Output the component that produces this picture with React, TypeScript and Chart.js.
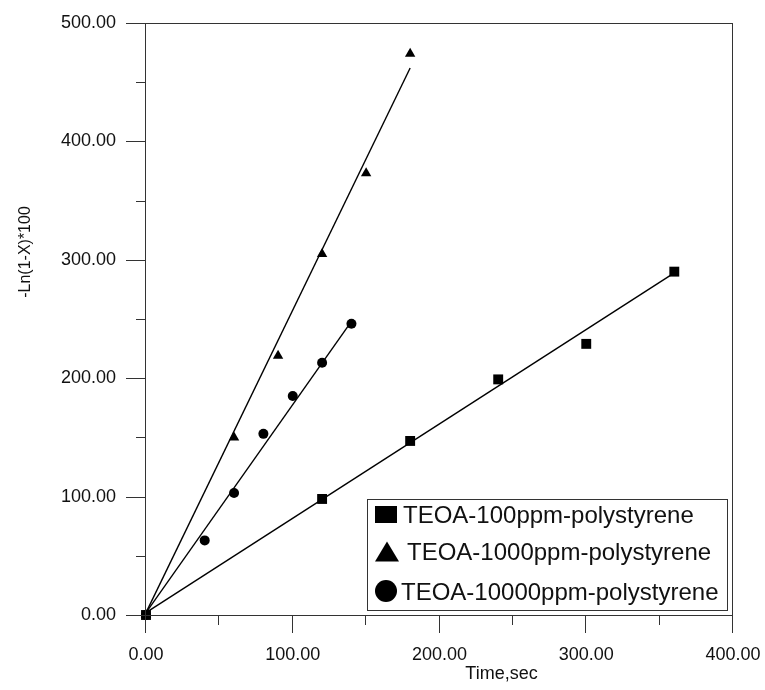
import React, { useEffect, useRef } from "react";
import { Chart, registerables } from "chart.js";

Chart.register(...registerables);

// ---- data ----
const seriesNames = [
  "TEOA-100ppm-polystyrene",
  "TEOA-1000ppm-polystyrene",
  "TEOA-10000ppm-polystyrene",
];

const time100 = [0, 120, 180, 240, 300, 360];
const value100 = [0, 98, 147, 199, 229, 290];

const time1000 = [0, 60, 90, 120, 150, 180];
const value1000 = [0, 150, 219, 305, 373, 474];

const time10000 = [0, 40, 60, 80, 100, 120, 140];
const value10000 = [0, 63, 103, 153, 185, 213, 246];

// fitted straight lines (end points)
const fit100X = [0, 360];
const fit100Y = [2, 289];
const fit1000X = [0, 180];
const fit1000Y = [2, 462];
const fit10000X = [0, 140];
const fit10000Y = [2, 248];

const xMajorTicks = [0, 100, 200, 300, 400];
const xMinorTicks = [50, 150, 250, 350];
const yMajorTicks = [0, 100, 200, 300, 400, 500];
const yMinorTicks = [50, 150, 250, 350, 450];

const xTitle = "Time,sec";
const yTitle = "-Ln(1-X)*100";

const FONT = '"Liberation Sans", Arial, Helvetica, sans-serif';
const INK = "#111";

function pts(xs: number[], ys: number[]) {
  return xs.map((x, i) => ({ x, y: ys[i] }));
}

function zeroPad(s: any) {
  s.paddingLeft = 0;
  s.paddingRight = 0;
  s.paddingTop = 0;
  s.paddingBottom = 0;
}

const decorPlugin = {
  id: "decor",
  afterDraw(chart: any) {
    const { ctx, chartArea: a, scales } = chart;
    const xs = scales.x;
    const ys = scales.y;
    ctx.save();
    // frame
    ctx.strokeStyle = "#333";
    ctx.lineWidth = 1;
    ctx.strokeRect(Math.round(a.left) - 0.5, Math.round(a.top) + 0.5, Math.round(a.right - a.left), Math.round(a.bottom - a.top));
    // ticks
    ctx.beginPath();
    xMajorTicks.forEach((v) => {
      const px = Math.round(xs.getPixelForValue(v)) - 0.5;
      ctx.moveTo(px, a.bottom);
      ctx.lineTo(px, a.bottom + 18);
    });
    xMinorTicks.forEach((v) => {
      const px = Math.round(xs.getPixelForValue(v)) - 0.5;
      ctx.moveTo(px, a.bottom);
      ctx.lineTo(px, a.bottom + 10);
    });
    yMajorTicks.forEach((v) => {
      const py = Math.round(ys.getPixelForValue(v)) + 0.5;
      ctx.moveTo(a.left - 20, py);
      ctx.lineTo(a.left, py);
    });
    yMinorTicks.forEach((v) => {
      const py = Math.round(ys.getPixelForValue(v)) + 0.5;
      ctx.moveTo(a.left - 10, py);
      ctx.lineTo(a.left, py);
    });
    ctx.stroke();

    // axis titles
    ctx.fillStyle = INK;
    ctx.font = `18px ${FONT}`;
    ctx.textAlign = "center";
    ctx.textBaseline = "middle";
    ctx.fillText(xTitle, (a.left + a.right) / 2 + 62, a.bottom + 59);

    ctx.save();
    ctx.font = `16px ${FONT}`;
    ctx.translate(26, a.top + 229);
    ctx.rotate(-Math.PI / 2);
    ctx.fillText(yTitle, 0, 0);
    ctx.restore();

    // legend box
    const bx0 = a.right - 366;
    const bx1 = a.right - 6;
    const by0 = a.bottom - 116;
    const by1 = a.bottom - 5;
    ctx.strokeStyle = "#333";
    ctx.lineWidth = 1;
    ctx.strokeRect(bx0 + 0.5, by0 + 0.5, bx1 - bx0, by1 - by0);

    const rowCenters = [by0 + 15.5, by0 + 52.5, by0 + 92];
    const textX = [bx0 + 36, bx0 + 40, bx0 + 34];
    const mx = bx0 + 19;
    ctx.fillStyle = "#000";
    // square
    ctx.fillRect(mx - 11, rowCenters[0] - 8.5, 22, 17);
    // triangle
    ctx.beginPath();
    ctx.moveTo(mx + 1, rowCenters[1] - 10);
    ctx.lineTo(mx + 13, rowCenters[1] + 10);
    ctx.lineTo(mx - 11, rowCenters[1] + 10);
    ctx.closePath();
    ctx.fill();
    // circle
    ctx.beginPath();
    ctx.arc(mx, rowCenters[2], 11, 0, Math.PI * 2);
    ctx.fill();

    ctx.fillStyle = INK;
    ctx.font = `24px ${FONT}`;
    ctx.textAlign = "left";
    ctx.textBaseline = "alphabetic";
    seriesNames.forEach((name, i) => {
      ctx.fillText(name, textX[i], rowCenters[i] + 8.5);
    });
    ctx.restore();
  },
};

export default function App() {
  const ref = useRef<HTMLCanvasElement | null>(null);

  useEffect(() => {
    document.body.style.margin = "0";
    const canvas = ref.current;
    if (!canvas) return;
    const chart = new Chart(canvas, {
      type: "scatter",
      data: {
        datasets: [
          {
            label: seriesNames[0],
            data: pts(time100, value100),
            pointStyle: "rect",
            pointRadius: 7,
            backgroundColor: "#000",
            borderColor: "#000",
            borderWidth: 0,
            showLine: false,
            clip: false,
            order: 1,
          },
          {
            label: seriesNames[1],
            data: pts(time1000, value1000),
            pointStyle: "triangle",
            pointRadius: 6,
            backgroundColor: "#000",
            borderColor: "#000",
            borderWidth: 0,
            showLine: false,
            clip: false,
            order: 2,
          },
          {
            label: seriesNames[2],
            data: pts(time10000, value10000),
            pointStyle: "circle",
            pointRadius: 5,
            backgroundColor: "#000",
            borderColor: "#000",
            borderWidth: 0,
            showLine: false,
            clip: false,
            order: 3,
          },
          {
            label: "fit100",
            data: pts(fit100X, fit100Y),
            showLine: true,
            pointRadius: 0,
            borderColor: "#000",
            borderWidth: 1.4,
            order: 4,
          },
          {
            label: "fit1000",
            data: pts(fit1000X, fit1000Y),
            showLine: true,
            pointRadius: 0,
            borderColor: "#000",
            borderWidth: 1.4,
            order: 5,
          },
          {
            label: "fit10000",
            data: pts(fit10000X, fit10000Y),
            showLine: true,
            pointRadius: 0,
            borderColor: "#000",
            borderWidth: 1.4,
            order: 6,
          },
        ],
      },
      options: {
        animation: false,
        responsive: false,
        devicePixelRatio: 1,
        layout: { padding: { top: 23, right: 32, left: 0, bottom: 0 } },
        plugins: {
          legend: { display: false },
          tooltip: { enabled: false },
        },
        scales: {
          x: {
            type: "linear",
            position: "bottom",
            min: 0,
            max: 400,
            grid: { display: false, drawTicks: false },
            border: { display: false },
            afterFit: (s: any) => {
              s.height = 75;
              zeroPad(s);
            },
            ticks: {
              stepSize: 100,
              autoSkip: false,
              maxRotation: 0,
              padding: 29,
              color: INK,
              font: { family: FONT, size: 18 },
              callback: (v: any) => Number(v).toFixed(2),
            },
          },
          y: {
            type: "linear",
            min: 0,
            max: 500,
            grid: { display: false, drawTicks: false },
            border: { display: false },
            afterFit: (s: any) => {
              s.width = 146;
              zeroPad(s);
            },
            ticks: {
              stepSize: 100,
              autoSkip: false,
              padding: 30,
              color: INK,
              font: { family: FONT, size: 18 },
              callback: (v: any) => Number(v).toFixed(2),
            },
          },
        },
      },
      plugins: [decorPlugin],
    } as any);
    return () => chart.destroy();
  }, []);

  return (
    <div style={{ width: 765, height: 690, background: "#fff" }}>
      <canvas ref={ref} width={765} height={690} style={{ display: "block" }} />
    </div>
  );
}
